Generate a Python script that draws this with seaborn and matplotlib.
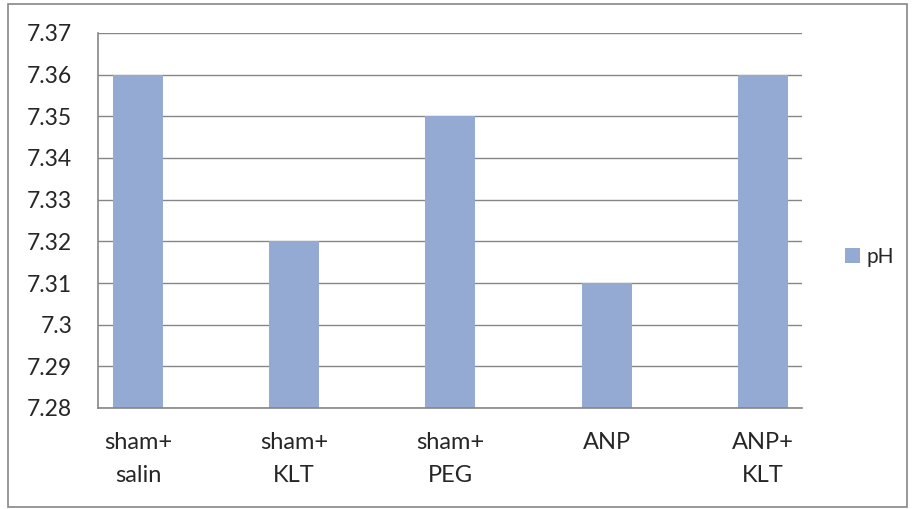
import matplotlib
matplotlib.use("Agg")
import matplotlib.pyplot as plt
import seaborn as sns
import pandas as pd
from matplotlib.patches import Rectangle

groups = ["sham+\nsalin", "sham+\nKLT", "sham+\nPEG", "ANP", "ANP+\nKLT"]
ph_values = [7.36, 7.32, 7.35, 7.31, 7.36]
series_name = "pH"
y_ticks = [7.28, 7.29, 7.30, 7.31, 7.32, 7.33, 7.34, 7.35, 7.36, 7.37]
y_tick_labels = ["7.28", "7.29", "7.3", "7.31", "7.32", "7.33", "7.34", "7.35", "7.36", "7.37"]

sns.set_style("white")
plt.rcParams["font.family"] = ["Lato", "DejaVu Sans"]

W, H = 915, 509
fig = plt.figure(figsize=(W / 100, H / 100), dpi=100)
ax = fig.add_axes([98 / W, 1 - 408 / H, (802 - 98) / W, (408 - 33) / H])

df = pd.DataFrame({"group": groups, "value": ph_values, "series": series_name})
bar_color = "#94AAD2"
sns.barplot(data=df, x="group", y="value", hue="series", palette=[bar_color],
            width=0.32, dodge=False, ax=ax, legend=True, saturation=1,
            linewidth=0, edgecolor="none")

grid_c = "#868686"
ax.set_ylim(7.28, 7.37)
ax.set_xlim(-0.256, 4.25)
ax.set_yticks(y_ticks)
ax.set_yticklabels(y_tick_labels, fontsize=16.5)
ax.set_xticks(range(len(groups)))
ax.set_xticklabels(groups, fontsize=17, linespacing=1.7)
ax.tick_params(axis="y", length=0, pad=18.5)
ax.tick_params(axis="x", length=0, pad=17)
ax.yaxis.grid(True, color=grid_c, linewidth=1)
ax.set_axisbelow(True)
ax.set_xlabel("")
ax.set_ylabel("")
for side in ["top", "right"]:
    ax.spines[side].set_visible(False)
for side in ["left", "bottom"]:
    ax.spines[side].set_color(grid_c)
    ax.spines[side].set_linewidth(1.2)

leg = ax.legend(loc="center left", bbox_to_anchor=(845 / W, 1 - 257 / H),
                bbox_transform=fig.transFigure, frameon=False, fontsize=15,
                handlelength=0.72, handleheight=0.72, handletextpad=0.3,
                borderaxespad=0, borderpad=0)

fig.patches.append(Rectangle((8 / W, 1 - 507 / H), (907 - 8) / W, (507 - 4) / H,
                             transform=fig.transFigure, fill=False,
                             edgecolor=grid_c, linewidth=1.2))

fig.savefig("out.png", dpi=100)
